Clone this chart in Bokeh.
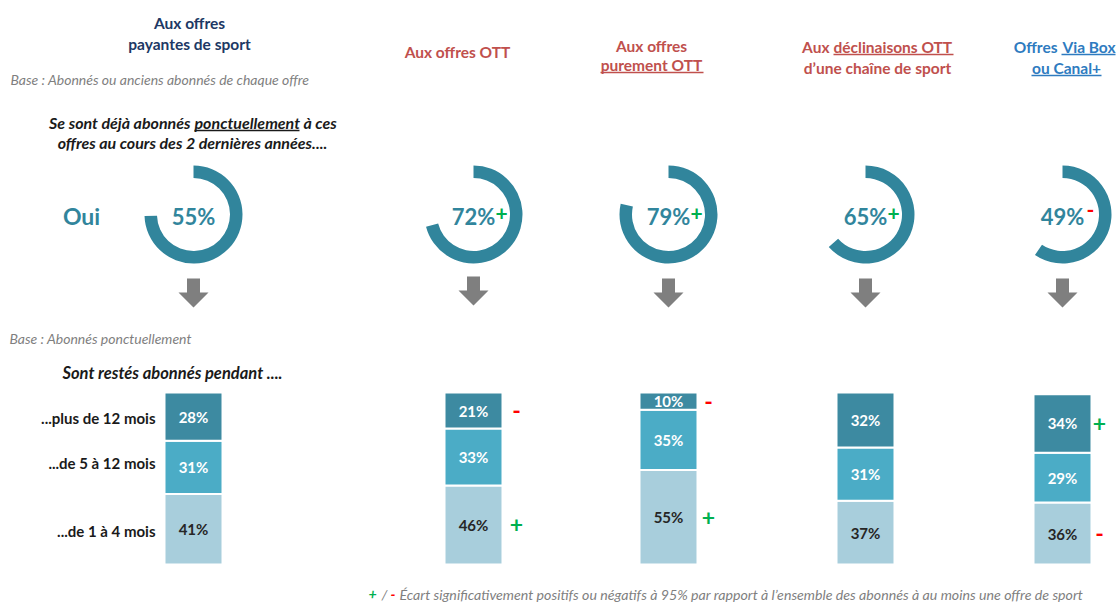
import math
from bokeh.plotting import figure
from bokeh.models import Range1d, ColumnDataSource
from bokeh.core.properties import value
from bokeh.embed import file_html
from bokeh.resources import INLINE

# ---------------- data ----------------
offers_line1 = ["Aux offres", "Aux offres OTT", "Aux offres", "Aux déclinaisons OTT", "Offres Via Box"]
offers_line2 = ["payantes de sport", "", "purement OTT", "d\u2019une chaîne de sport", "ou Canal+"]
oui_pct = [55, 72, 79, 65, 49]
oui_sig = ["", "+", "+", "+", "-"]
ring_arc_pct = [74.5, 71, 78.5, 63.5, 59.5]   # arc length as drawn in the source picture
durations = ["...plus de 12 mois", "...de 5 à 12 mois", "...de 1 à 4 mois"]
plus12 = [28, 21, 10, 32, 34]
m5_12 = [31, 33, 35, 31, 29]
m1_4 = [41, 46, 55, 37, 36]
sig_plus12 = ["", "-", "-", "", "+"]
sig_m1_4 = ["", "+", "+", "", "-"]

# ---------------- layout / style ----------------
FONT = value("Lato")
W, H = 1116, 604
def Y(img_y):
    return H - img_y

col_x = [193, 473, 668, 865, 1062]
ring_y = 214
bar_w = 58
sig_dx = [0, 43, 40, 0, 37]
TEAL = "#31859C"
C_DARK, C_MID, C_LIGHT = "#3D8AA1", "#4BACC6", "#A8CEDC"
NAVY, RED, BLUE = "#203864", "#C0504D", "#2E7BC0"
GREEN, SIGRED = "#00B050", "#FF0000"
GRAY = "#7F7F7F"
INK = "#1a1a1a"

p = figure(width=W, height=H, x_range=Range1d(0, W), y_range=Range1d(0, H),
           output_backend="svg", toolbar_location=None, min_border=0,
           x_axis_type=None, y_axis_type=None)
p.grid.visible = False
p.outline_line_color = None
p.background_fill_color = "white"
# percent scale for bars: 0% at picture y 564, 1.72 px per percent
k = 1.72
base = Y(564)
p.extra_y_ranges = {"pct": Range1d((0 - base) / k, (H - base) / k)}

def txt(x, y, t, size, color, style="normal", align="center", baseline="middle"):
    p.text(x=[x], y=[Y(y)], text=[t], text_font=FONT, text_font_size=size,
           text_font_style=style, text_color=color, text_align=align,
           text_baseline=baseline)

def uline(x0, x1, y, color):
    p.segment(x0=[x0], x1=[x1], y0=[Y(y)], y1=[Y(y)], line_color=color, line_width=1.3)

# ---------------- headers ----------------
HS = "15.5px"
txt(189, 22, offers_line1[0], HS, NAVY, "bold")
txt(189, 43, offers_line2[0], HS, NAVY, "bold")
txt(457, 51, offers_line1[1], HS, RED, "bold")
txt(651, 45, offers_line1[2], HS, RED, "bold")
txt(651, 64, offers_line2[2], HS, RED, "bold")
uline(600, 703, 72, RED)
txt(829, 46, "Aux", HS, RED, "bold", "right")
txt(833, 46, "déclinaisons OTT", HS, RED, "bold", "left")
uline(833, 953, 54, RED)
txt(877, 67, offers_line2[3], HS, RED, "bold")
txt(1057, 46, "Offres", HS, BLUE, "bold", "right")
txt(1115, 46, "Via Box", HS, BLUE, "bold", "right")
uline(1061, 1115, 54, BLUE)
txt(1066, 67, offers_line2[4], HS, BLUE, "bold")
uline(1031, 1101, 75, BLUE)

txt(10, 79, "Base : Abonnés ou anciens abonnés de chaque offre", "14px", GRAY, "italic", "left")
QS = "16px"
txt(190, 122, "Se sont déjà abonnés", QS, INK, "bold italic", "right")
txt(194, 122, "ponctuellement", QS, INK, "bold italic", "left")
txt(303, 122, "à ces", QS, INK, "bold italic", "left")
uline(194, 299, 130, INK)
txt(192, 142, "offres au cours des 2 dernières années....", QS, INK, "bold italic")

# ---------------- rings ----------------
txt(81, 215, "Oui", "23px", TEAL, "bold")
ring_src = ColumnDataSource(dict(
    x=col_x, y=[Y(ring_y)] * 5,
    start=[math.pi / 2] * 5,
    end=[math.pi / 2 - 2 * math.pi * f / 100 for f in ring_arc_pct]))
p.annular_wedge(x="x", y="y", inner_radius=36.5, outer_radius=49,
                start_angle="start", end_angle="end", direction="clock",
                fill_color=TEAL, line_color=None, source=ring_src)
p.text(x=col_x, y=[Y(ring_y + 2)] * 5, text=[f"{v}%" for v in oui_pct],
       text_font=FONT, text_font_size="22px", text_font_style="bold",
       text_color=TEAL, text_align="center", text_baseline="middle")
for i, s in enumerate(oui_sig):
    if s:
        txt(col_x[i] + 28, ring_y - (1 if s == "+" else 5), s, "21px",
            GREEN if s == "+" else SIGRED, "bold")

# ---------------- arrows ----------------
arrow_top = [278, 276, 278, 278, 278]
xs, ys = [], []
for cx, t in zip(col_x, arrow_top):
    xs.append([cx - 6.5, cx + 6.5, cx + 6.5, cx + 15, cx, cx - 15, cx - 6.5])
    ys.append([Y(t), Y(t), Y(t + 14), Y(t + 14), Y(t + 29), Y(t + 14), Y(t + 14)])
p.patches(xs=xs, ys=ys, fill_color=GRAY, line_color=None)

# ---------------- bars ----------------
txt(9, 338, "Base : Abonnés ponctuellement", "14px", GRAY, "italic", "left")
txt(172, 372, "Sont restés abonnés pendant ....", "16.5px", INK, "bold italic")

bar_src = ColumnDataSource(dict(x=col_x, m1_4=m1_4, m5_12=m5_12, plus12=plus12))
p.vbar_stack(["m1_4", "m5_12", "plus12"], x="x", width=bar_w, source=bar_src,
             color=[C_LIGHT, C_MID, C_DARK], line_color="white", line_width=2,
             y_range_name="pct")

mid1 = [a / 2 for a in m1_4]
mid2 = [a + b / 2 for a, b in zip(m1_4, m5_12)]
mid3 = [a + b + c / 2 for a, b, c in zip(m1_4, m5_12, plus12)]
for mids, vals, col in [(mid1, m1_4, "#262626"), (mid2, m5_12, "white"), (mid3, plus12, "white")]:
    p.text(x=col_x, y=mids, text=[f"{v}%" for v in vals], y_range_name="pct",
           text_font=FONT, text_font_size="15px", text_font_style="bold",
           text_color=col, text_align="center", text_baseline="middle")

for sigs, mids in [(sig_plus12, mid3), (sig_m1_4, mid1)]:
    for i, s in enumerate(sigs):
        if s:
            p.text(x=[col_x[i] + sig_dx[i]], y=[mids[i]], text=[s], y_range_name="pct",
                   text_font=FONT, text_font_size="23px", text_font_style="bold",
                   text_color=GREEN if s == "+" else SIGRED,
                   text_align="center", text_baseline="middle")

row_y = [417, 462, 530]
for lbl, yy in zip(durations, row_y):
    txt(155, yy, lbl, "15px", INK, "bold", "right")

# ---------------- footnote ----------------
FY = 594
FS = "14.2px"
txt(368, FY, "+", FS, GREEN, "bold italic", "left")
txt(381, FY, "/", FS, GRAY, "italic", "left")
txt(390, FY, "-", FS, SIGRED, "bold italic", "left")
txt(399, FY, "Écart significativement positifs ou négatifs à 95% par rapport à l\u2019ensemble des abonnés à au moins une offre de sport",
    FS, GRAY, "italic", "left")

open("out.html", "w").write(file_html(p, INLINE))
